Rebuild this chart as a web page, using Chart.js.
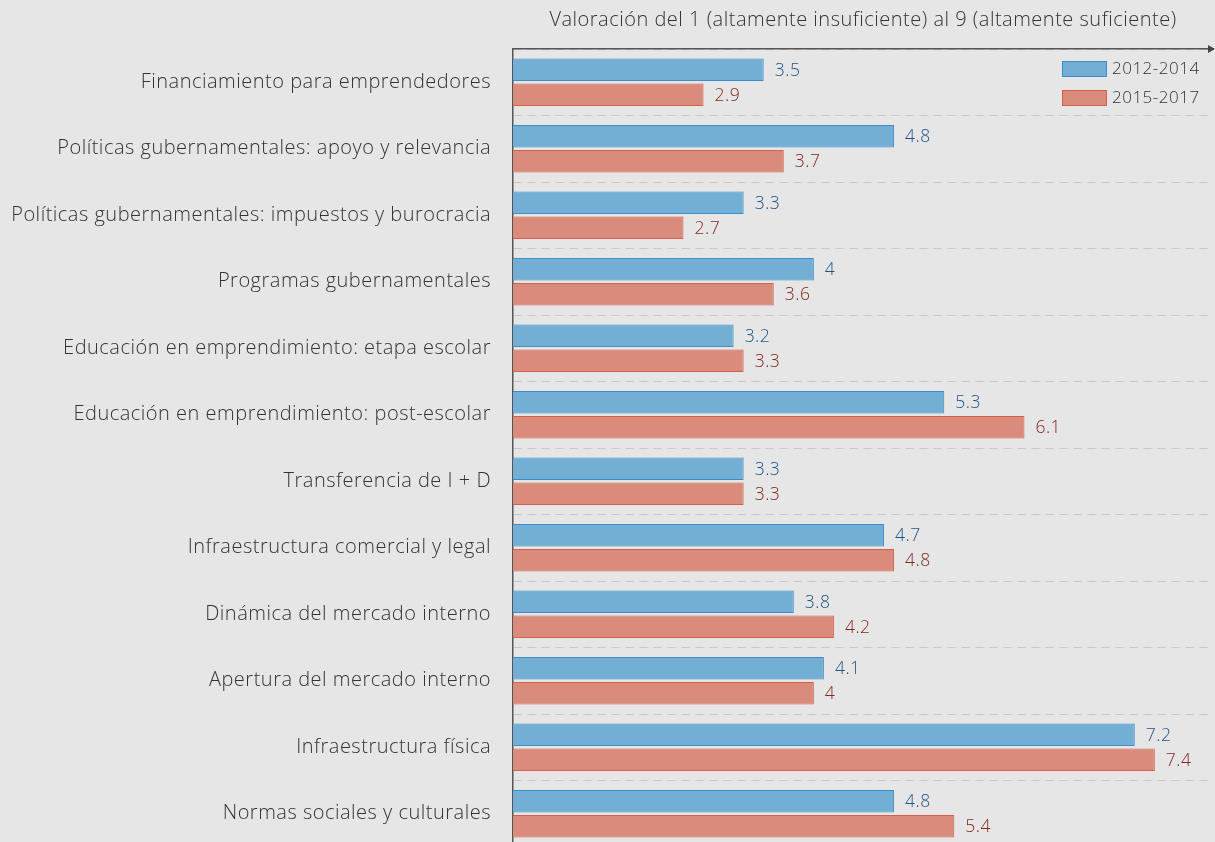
<!DOCTYPE html>
<html>
<head>
<meta charset="utf-8">
<script src="https://cdn.jsdelivr.net/npm/chart.js@4"></script>
<style>
  html, body { margin:0; padding:0; background:#e6e6e6; overflow:hidden; }
</style>
</head>
<body>
<canvas id="graf" width="1215" height="881"></canvas>
<script>
const categorias = [
  'Financiamiento para emprendedores',
  'Políticas gubernamentales: apoyo y relevancia',
  'Políticas gubernamentales: impuestos y burocracia',
  'Programas gubernamentales',
  'Educación en emprendimiento: etapa escolar',
  'Educación en emprendimiento: post-escolar',
  'Transferencia de I + D',
  'Infraestructura comercial y legal',
  'Dinámica del mercado interno',
  'Apertura del mercado interno',
  'Infraestructura física',
  'Normas sociales y culturales'
];
const periodos = ['2012-2014', '2015-2017'];
const valores2012 = [3.5, 4.8, 3.3, 4, 3.2, 5.3, 3.3, 4.7, 3.8, 4.1, 7.2, 4.8];
const valores2015 = [2.9, 3.7, 2.7, 3.6, 3.3, 6.1, 3.3, 4.8, 4.2, 4, 7.4, 5.4];
const tituloEje = 'Valoración del 1 (altamente insuficiente) al 9 (altamente suficiente)';

const fuente = '"Open Sans", Roboto, sans-serif';
const textColors = ['#1f5487', '#84291b'];

// un poco de espacio entre letras, la fuente original es mas ancha
const espaciado = {
  id: 'espaciado',
  beforeDraw(chart) { chart.ctx.letterSpacing = '0.5px'; }
};

// etiquetas de valor al final de cada barra
const etiquetas = {
  id: 'etiquetas',
  afterDatasetsDraw(chart) {
    const ctx = chart.ctx;
    ctx.save();
    ctx.font = '300 17.5px ' + fuente;
    ctx.textBaseline = 'middle';
    ctx.textAlign = 'left';
    chart.data.datasets.forEach((ds, i) => {
      chart.getDatasetMeta(i).data.forEach((bar, j) => {
        ctx.fillStyle = textColors[i];
        ctx.fillText(String(ds.data[j]), bar.x + 11, bar.y + 1);
      });
    });
    ctx.restore();
  }
};

// leyenda arriba a la derecha y flecha del eje
const extras = {
  id: 'extras',
  afterDraw(chart) {
    const ctx = chart.ctx;
    const a = chart.chartArea;
    ctx.save();
    // flecha
    ctx.fillStyle = '#444';
    ctx.beginPath();
    ctx.moveTo(a.right + 2, a.top);
    ctx.lineTo(a.right - 5, a.top - 4);
    ctx.lineTo(a.right - 5, a.top + 4);
    ctx.closePath();
    ctx.fill();
    // leyenda
    ctx.font = '300 17px ' + fuente;
    ctx.textBaseline = 'middle';
    chart.data.datasets.forEach((ds, i) => {
      const x = a.right - 151;
      const y = a.top + 12 + i * 29;
      ctx.fillStyle = ds.backgroundColor;
      ctx.fillRect(x, y, 45, 16);
      ctx.strokeStyle = ds.borderColor;
      ctx.lineWidth = 1;
      ctx.strokeRect(x + 0.5, y + 0.5, 44, 15);
      ctx.fillStyle = '#333';
      ctx.fillText(ds.label, x + 50, y + 8);
    });
    ctx.restore();
  }
};

new Chart(document.getElementById('graf').getContext('2d'), {
  type: 'bar',
  data: {
    labels: categorias,
    datasets: [
      {
        label: periodos[0],
        data: valores2012,
        backgroundColor: '#73afd4',
        borderColor: '#3b8cc9',
        borderWidth: 1,
        borderSkipped: false
      },
      {
        label: periodos[1],
        data: valores2015,
        backgroundColor: '#da8c7c',
        borderColor: '#d65f4c',
        borderWidth: 1,
        borderSkipped: false
      }
    ]
  },
  options: {
    indexAxis: 'y',
    responsive: false,
    animation: false,
    categoryPercentage: 0.75,
    barPercentage: 0.9,
    layout: { padding: { top: 5, right: 2, left: 0, bottom: 0 } },
    plugins: {
      legend: { display: false },
      tooltip: { enabled: false }
    },
    scales: {
      x: {
        position: 'top',
        min: 1,
        max: 7.98,
        grid: { display: false, drawTicks: false },
        border: { display: true, color: '#555', width: 1.5 },
        ticks: { display: false },
        title: {
          display: true,
          text: tituloEje,
          color: '#333',
          font: { family: fuente, size: 20, weight: 300 },
          padding: { top: 3, bottom: 17 }
        }
      },
      y: {
        grid: { display: true, color: '#c8c8c8', lineWidth: 1, drawTicks: false, offset: true },
        border: { display: true, color: '#555', width: 1.5, dash: [8, 6] },
        ticks: {
          color: '#333',
          padding: 22,
          font: { family: fuente, size: 20, weight: 300 }
        },
        afterFit(scale) { scale.width = 513; }
      }
    }
  },
  plugins: [espaciado, etiquetas, extras]
});
</script>
</body>
</html>
